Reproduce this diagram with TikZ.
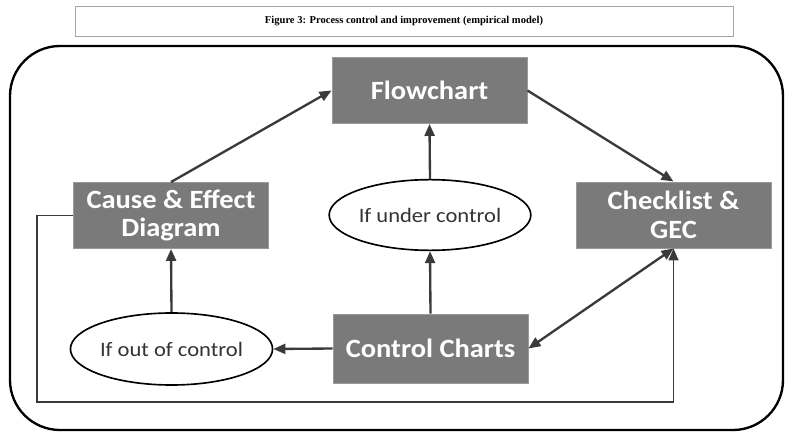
\documentclass[tikz,border=0pt]{standalone}
\usepackage{fontspec}
\setmainfont{Liberation Serif}
\newfontfamily\carlitobox[FakeStretch=1.08]{Carlito}
\newfontfamily\carlitooval[FakeStretch=1.1]{Carlito}
\usetikzlibrary{arrows.meta,shapes.geometric}
\definecolor{boxgray}{HTML}{7A7A7A}
\definecolor{boxedge}{HTML}{9A9A9A}
\definecolor{linegray}{HTML}{3A3A3A}
\definecolor{ovaltext}{HTML}{333333}
\tikzset{
  procbox/.style={rectangle, fill=boxgray, draw=boxedge, line width=0.8pt,
    minimum width=5.85cm, minimum height=1.98cm, inner sep=0pt, align=center,
    text=white, font=\carlitobox\bfseries\fontsize{22.5}{24.5}\selectfont},
  condoval/.style={ellipse, draw=black, line width=1.4pt, fill=white, inner sep=0pt,
    minimum width=6.05cm, minimum height=2.12cm, text=ovaltext,
    font=\carlitooval\fontsize{17.5}{19}\selectfont},
  flowarrow/.style={draw=linegray, line width=2pt,
    -{Triangle[length=0.36cm,width=0.3cm]}},
  twoarrow/.style={draw=linegray, line width=2pt,
    {Triangle[length=0.36cm,width=0.3cm]}-{Triangle[length=0.36cm,width=0.3cm]}},
  fbline/.style={draw=linegray, line width=1.3pt,
    -{Triangle[length=0.36cm,width=0.3cm]}},
}
\begin{document}
\begin{tikzpicture}[x=0.03cm,y=-0.03cm]
\useasboundingbox (0,0) rectangle (786,432);
% title box
\node[draw=gray!70, line width=0.6pt, minimum width=19.74cm, minimum height=0.9cm,
  inner sep=0pt, font=\bfseries\fontsize{9}{10}\selectfont] (title) at (404,21)
  {Figure 3: Process control and improvement (empirical model)};
% outer frame
\draw[line width=2pt, rounded corners=1.5cm] (10,46) rectangle (783,430);
% nodes
\node[procbox] (flow) at (429.5,90.5) {Flowchart};
\node[procbox] (ce) at (171,215.5) {Cause \& Effect\\Diagram};
\node[procbox] (check) at (673.5,215) {Checklist \&\\GEC};
\node[procbox, minimum height=2.07cm] (cc) at (430.5,348.5) {Control Charts};
\node[condoval] (under) at (430,215) {If under control};
\node[condoval, minimum height=2.16cm] (out) at (171.5,349) {If out of control};
% feedback path coordinates
\coordinate (fbA) at (37,215.5);
\coordinate (fbB) at (37,402);
\coordinate (fbC) at (673.5,402);
% connectors
\draw[flowarrow] (ce.north) -- (flow.west);
\draw[flowarrow] (flow.east) -- (check.north);
\draw[flowarrow] (under.north) -- (flow.south);
\draw[flowarrow] (cc.north) -- (under.south);
\draw[flowarrow] (cc.west) -- (out.east);
\draw[flowarrow] (out.north) -- (ce.south);
\draw[twoarrow] (check.south) -- (cc.east);
\draw[fbline] (ce.west) -- (fbA) -- (fbB) -- (fbC) -- (check.south);
\end{tikzpicture}
\end{document}
